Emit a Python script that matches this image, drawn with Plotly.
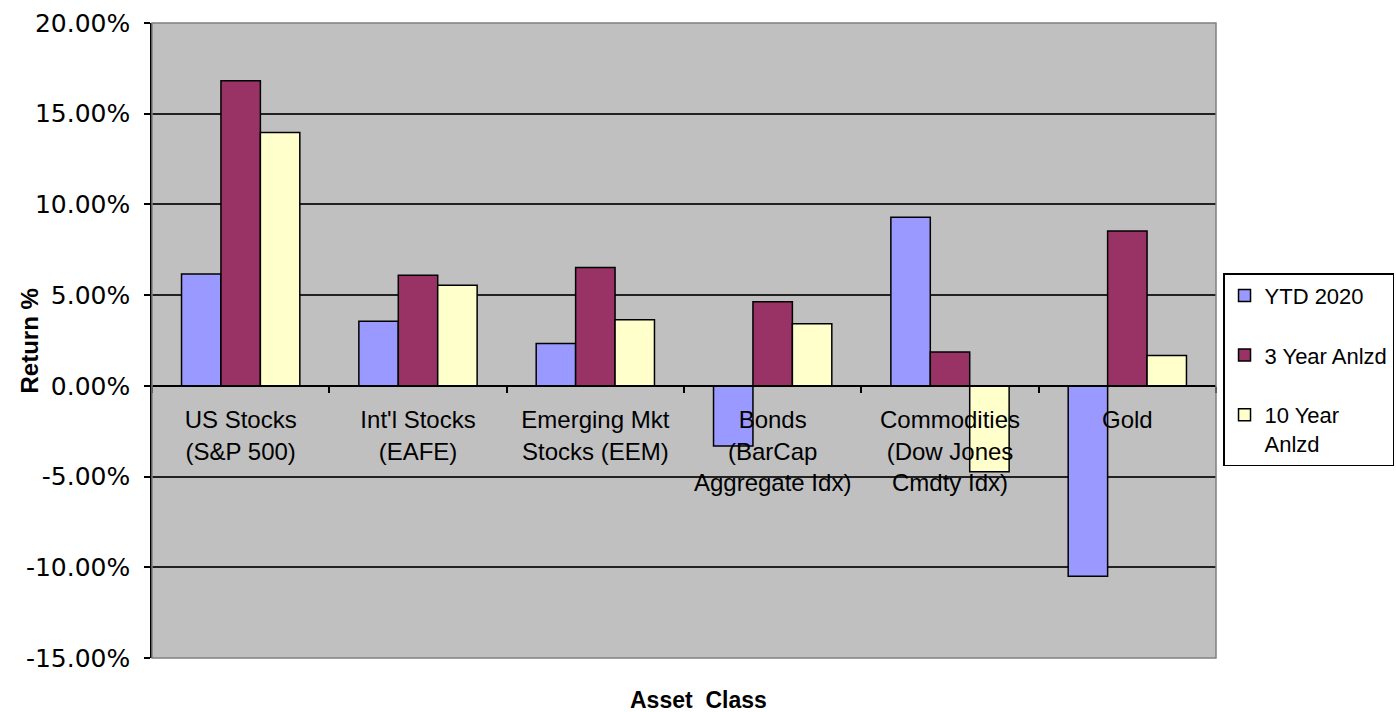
import plotly.graph_objects as go

# Asset classes and returns (%)
categories = [
    "US Stocks<br>(S&P 500)",
    "Int'l Stocks<br>(EAFE)",
    "Emerging Mkt<br>Stocks (EEM)",
    "Bonds<br>(BarCap<br>Aggregate Idx)",
    "Commodities<br>(Dow Jones<br>Cmdty Idx)",
    "Gold",
]
ytd_2020 = [6.17, 3.56, 2.33, -3.31, 9.29, -10.50]
three_year = [16.82, 6.09, 6.52, 4.63, 1.87, 8.54]
ten_year = [13.96, 5.54, 3.65, 3.43, -4.74, 1.67]

series_names = ["YTD 2020", "3 Year Anlzd", "10 Year<br>Anlzd"]
series_colors = ["#9999FF", "#993366", "#FFFFCC"]

y_tick_vals = [-15, -10, -5, 0, 5, 10, 15, 20]
y_tick_text = ["-15.00%", "-10.00%", "-5.00%", "0.00%", "5.00%", "10.00%", "15.00%", "20.00%"]
y_min, y_max = -15, 20

fig = go.Figure()
for name, vals, color in zip(series_names, [ytd_2020, three_year, ten_year], series_colors):
    fig.add_trace(go.Bar(
        x=categories, y=vals, name=name, legendgroup=name,
        marker=dict(color=color, line=dict(color="#000000", width=1.5)),
    ))

font_main = "Liberation Sans, Arial, sans-serif"

fig.update_layout(
    width=1396, height=712,
    margin=dict(l=152, r=180, t=23, b=54, autoexpand=False),
    paper_bgcolor="#FFFFFF",
    plot_bgcolor="#C0C0C0",
    barmode="group",
    bargap=0.333,
    bargroupgap=0,
    font=dict(family=font_main, color="#000000"),
    legend=dict(
        x=1.0066, xanchor="left", y=0.606, yanchor="top",
        bgcolor="#FFFFFF", bordercolor="#000000", borderwidth=1.5,
        font=dict(size=22, family=font_main),
        tracegroupgap=28, traceorder="grouped", valign="top",
    ),
    xaxis=dict(
        anchor="free", position=(0 - y_min) / (y_max - y_min),
        tickson="boundaries", ticks="outside", ticklen=6, tickwidth=1.5,
        tickcolor="#000000", showline=True, linecolor="#000000", linewidth=1.5,
        tickfont=dict(size=24, family=font_main), ticklabelstandoff=13,
        showgrid=False, range=[-0.5, 5.5], automargin=False,
    ),
    yaxis=dict(
        range=[y_min, y_max], tickvals=y_tick_vals, ticktext=y_tick_text,
        ticks="outside", ticklen=6, tickwidth=1.5, tickcolor="#000000",
        showline=True, linecolor="#000000", linewidth=1.5,
        showgrid=True, gridcolor="#222222", gridwidth=1.5,
        zeroline=True, zerolinecolor="#000000", zerolinewidth=1.5,
        tickfont=dict(size=25, family="DejaVu Sans, sans-serif"),
        ticklabelstandoff=9, automargin=False,
    ),
    annotations=[
        dict(
            text="<b>Asset  Class</b>", xref="paper", yref="paper",
            x=0.514, y=-0.0660, yanchor="middle", xanchor="center", showarrow=False,
            font=dict(size=23, family=font_main),
        ),
        dict(
            text="<b>Return %</b>", xref="paper", yref="paper", textangle=-90,
            x=-0.1147, y=0.5, xanchor="center", yanchor="middle", showarrow=False,
            font=dict(size=24, family=font_main),
        ),
    ],
    shapes=[dict(
        type="rect", xref="paper", yref="paper", x0=0, x1=1, y0=0, y1=1,
        line=dict(color="#808080", width=1.5), layer="above",
    )],
)

fig.write_html("out.html")
